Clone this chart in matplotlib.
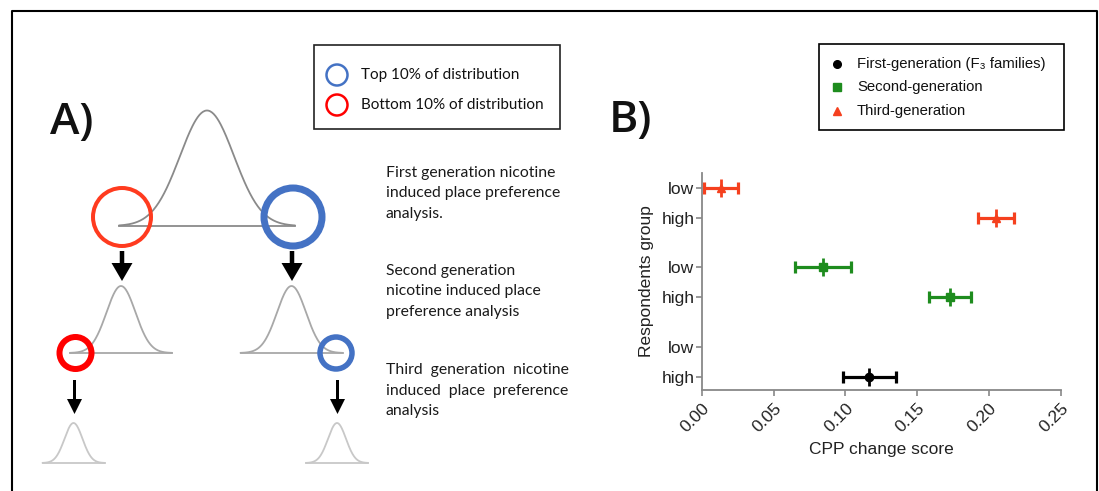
import numpy as np
import matplotlib
matplotlib.use("Agg")
import matplotlib.pyplot as plt
from matplotlib.patches import Circle, Rectangle, FancyArrow

# Panel B data: CPP change score, mean with lower / upper error limits
row_labels = ["high", "low", "high", "low", "high", "low"]  # bottom to top
row_pos = [0, 1, 2.65, 3.65, 5.3, 6.3]

gen_labels = ["First-generation (F\u2083 families)", "Second-generation", "Third-generation"]
gen_colors = ["black", "#1e8c1e", "#f5401e"]
gen_markers = ["o", "s", "^"]

first_rows = [0]
first_mean = [0.1163]
first_lo = [0.0985]
first_hi = [0.1349]

second_rows = [2.65, 3.65]
second_mean = [0.173, 0.0843]
second_lo = [0.1585, 0.0645]
second_hi = [0.1878, 0.1040]

third_rows = [5.3, 6.3]
third_mean = [0.205, 0.0135]
third_lo = [0.1925, 0.0016]
third_hi = [0.2175, 0.0251]

# Panel A text
legend_a = ["Top 10% of distribution", "Bottom 10% of distribution"]
blurb_first = ["First generation nicotine", "induced place preference", "analysis."]
blurb_second = ["Second generation", "nicotine induced place", "preference analysis"]
blurb_third = ["Third  generation  nicotine", "induced  place  preference", "analysis"]

W, H = 1099, 491
fig = plt.figure(figsize=(W / 100, H / 100), dpi=100)

# background axes in pixel units for the schematic
bg = fig.add_axes([0, 0, 1, 1])
bg.set_xlim(0, W)
bg.set_ylim(H, 0)
bg.axis("off")

# outer frame
bg.plot([11.5, 11.5, 1096.5, 1096.5], [H, 10.5, 10.5, H], color="black", lw=1.5)

blue = "#4472c4"
PX = 72 / 100  # points per pixel

def bell(cx, peak, base, half, sigma, color, lw=1.3):
    x = np.linspace(cx - half, cx + half, 200)
    y = base - (base - peak) * np.exp(-(x - cx) ** 2 / (2 * sigma ** 2))
    bg.plot(x, y, color=color, lw=lw, solid_capstyle="round")
    bg.plot([cx - half, cx + half], [base, base], color=color, lw=lw)

# generation 1
bell(207, 110.5, 226, 88, 27, "#8a8a8a")
# generation 2
bell(121, 286, 353, 51, 14.5, "#a8a8a8")
bell(291.5, 286, 353, 51, 14.5, "#a8a8a8")
# generation 3
bell(73.5, 423, 463, 31, 9, "#c8c8c8")
bell(337, 423, 463, 31, 9, "#c8c8c8")

rings = [(122, 217, 29, "#ff3b1f", 4), (293, 217, 29, blue, 7),
         (75.5, 353, 16, "#ff0000", 6), (336, 353, 16, blue, 5.5)]
for cx, cy, r, c, w in rings:
    bg.add_patch(Circle((cx, cy), r, fill=False, ec=c, lw=w * PX, zorder=3))

arrows = [(122, 251, 30, 4.5, 21, 18), (292, 251, 30, 4.5, 21, 18),
          (74.5, 380, 34, 3, 15, 15), (337.5, 380, 34, 3, 15, 15)]
for x, y0, ln, w, hw, hl in arrows:
    bg.add_patch(FancyArrow(x, y0, 0, ln, width=w, head_width=hw, head_length=hl,
                            length_includes_head=True, color="black", lw=0))

bg.text(50, 122, "A)", fontsize=32, family="Open Sans", weight="semibold",
        va="center", ha="left", color="#111")
bg.text(609, 120, "B)", fontsize=32, family="Open Sans", weight="semibold",
        va="center", ha="left", color="#111")

# legend A
bg.add_patch(Rectangle((313.5, 45), 246, 84, fill=False, ec="#222", lw=1.2))
for i, (lab, c) in enumerate(zip(legend_a, [blue, "#ff0000"])):
    yy = 75 + 30 * i
    bg.add_patch(Circle((337, yy), 10.5, fill=False, ec=c, lw=2.5 * PX))
    bg.text(361, yy, lab, fontsize=11, family="Lato", va="center", ha="left", color="#111")

for block, y0 in [(blurb_first, 173), (blurb_second, 271), (blurb_third, 370)]:
    for j, line in enumerate(block):
        bg.text(386, y0 + 20.5 * j, line, fontsize=11.3, family="Lato",
                va="center", ha="left", color="#1a1a1a")

# legend B
bg.add_patch(Rectangle((818.5, 43.5), 245, 86.5, fill=False, ec="black", lw=1.2))
for i, (lab, c, m) in enumerate(zip(gen_labels, gen_colors, gen_markers)):
    yy = 63.5 + 23.7 * i
    bg.plot([837], [yy], marker=m, color=c, ms=5.5, ls="none")
    bg.text(857, yy, lab, fontsize=10.7, family=["Liberation Sans", "DejaVu Sans"],
            va="center", ha="left", color="#111")

# panel B plot
ax = fig.add_axes([702 / W, (H - 390) / H, 358.7 / W, 217 / H])
ax.patch.set_alpha(0)
series = [(first_rows, first_mean, first_lo, first_hi),
          (second_rows, second_mean, second_lo, second_hi),
          (third_rows, third_mean, third_lo, third_hi)]
for (rows, mean, lo, hi), c, m in zip(series, gen_colors, gen_markers):
    mean = np.array(mean)
    xerr = [mean - np.array(lo), np.array(hi) - mean]
    ax.errorbar(mean, rows, xerr=xerr, fmt=m, color=c, ms=6, elinewidth=2.3,
                capsize=4.5, capthick=2.3, clip_on=False)
    ax.plot(mean, rows, marker="|", ms=13, mew=2, color=c, ls="none", clip_on=False)

ax.set_xlim(0, 0.25)
ax.set_ylim(-0.45, 6.8)
ax.set_xticks([0, 0.05, 0.10, 0.15, 0.20, 0.25])
ax.set_xticklabels(["0.00", "0.05", "0.10", "0.15", "0.20", "0.25"])
ax.set_yticks(row_pos)
ax.set_yticklabels(row_labels)
for s in ["top", "right"]:
    ax.spines[s].set_visible(False)
for s in ["left", "bottom"]:
    ax.spines[s].set_color("#888")
    ax.spines[s].set_linewidth(1.3)
ax.tick_params(colors="#888", width=1.2, length=4, labelcolor="#222", labelsize=12.5)
ax.tick_params(axis="y", pad=1.5)
for t in ax.get_xticklabels():
    t.set_rotation(45)
    t.set_ha("right")
    t.set_rotation_mode("anchor")
    t.set_family("Liberation Sans")
for t in ax.get_yticklabels():
    t.set_family("Liberation Sans")
ax.set_xlabel("CPP change score", fontsize=12.5, family="Liberation Sans", color="#222", labelpad=5)
ax.set_ylabel("Respondents group", fontsize=12.5, family="Liberation Sans", color="#222", labelpad=5)

fig.savefig("out.png", dpi=100)
